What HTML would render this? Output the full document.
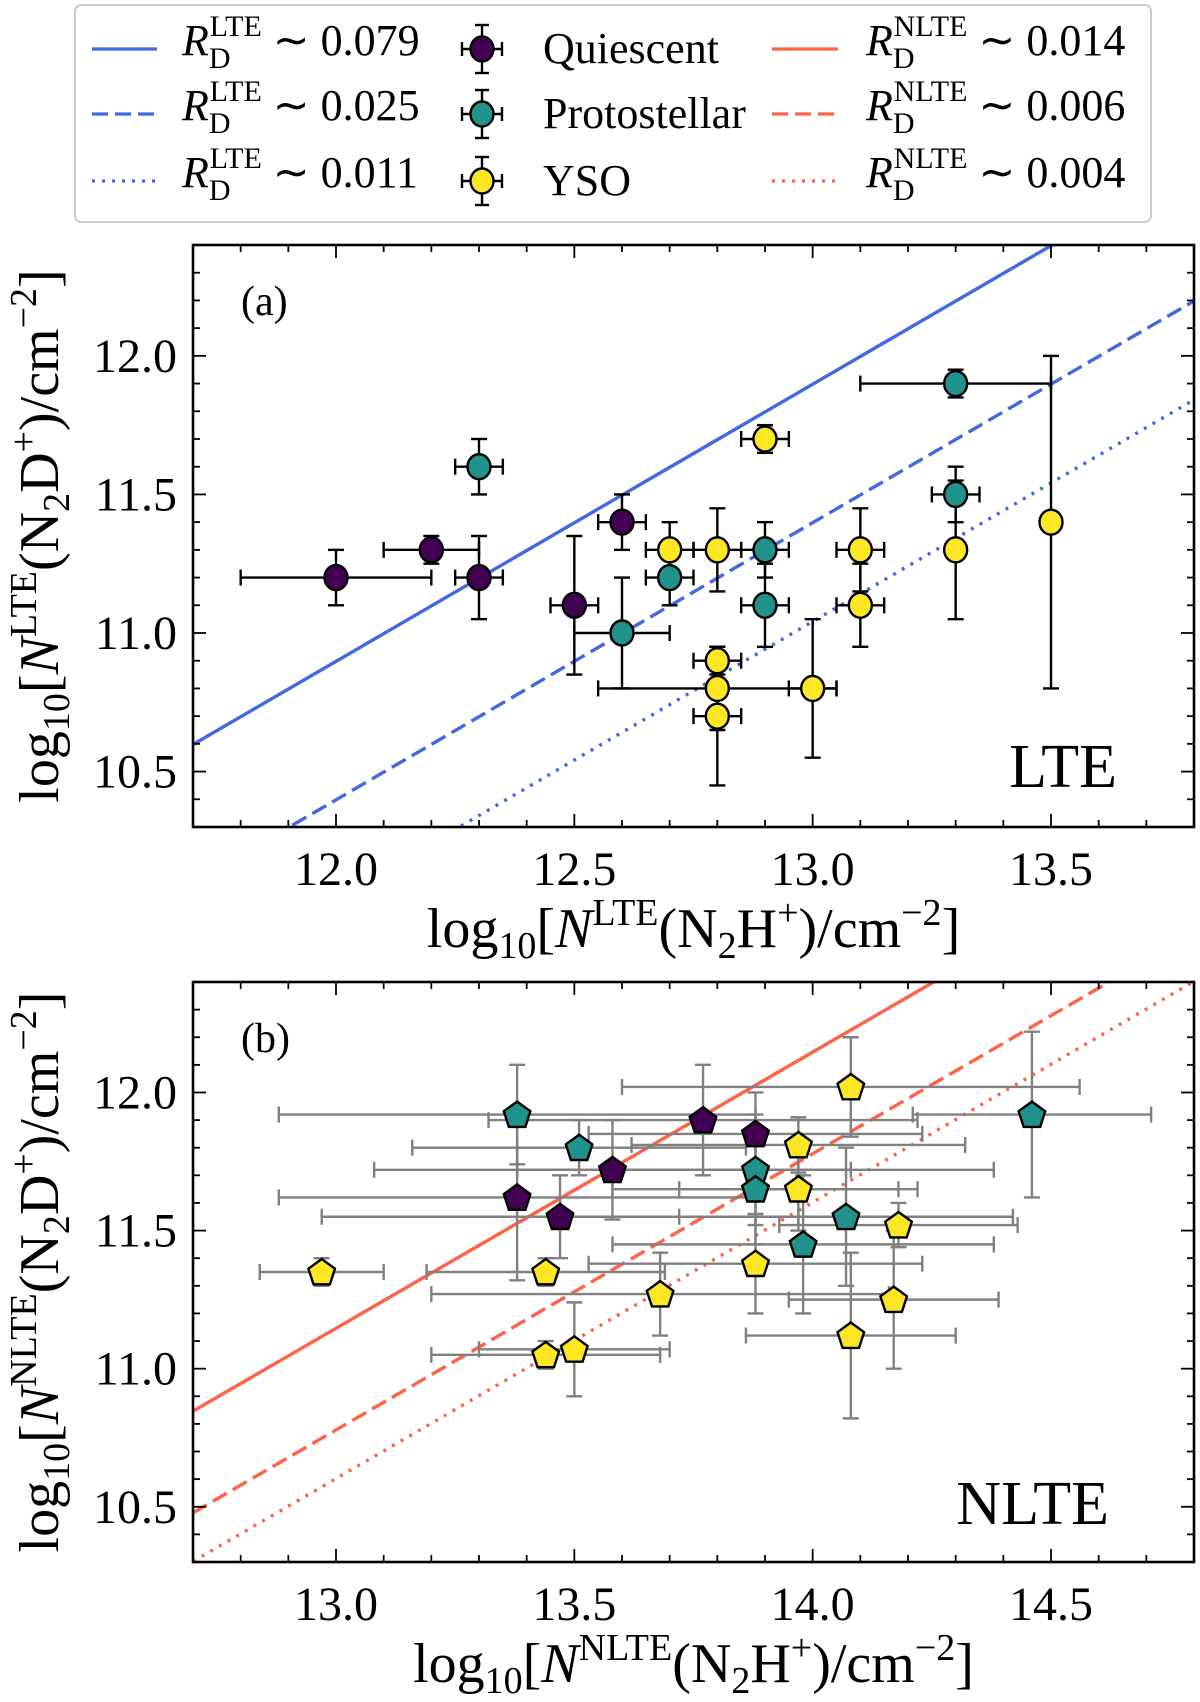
<!DOCTYPE html>
<html><head><meta charset="utf-8"><style>
html,body{margin:0;padding:0;background:#fff}
svg{display:block;font-family:"Liberation Serif",serif}
</style></head><body>
<svg id="fig" width="1200" height="1702" viewBox="0 0 1200 1702" xmlns="http://www.w3.org/2000/svg">
<g id="legend">
<rect x="75" y="5" width="1076" height="217" rx="6" fill="#fff" stroke="#ccc" stroke-width="2"/>
</g>
<g id="pa"></g>
<g id="pb"></g>
</svg>
<script>
// Panel a data: [x, y, xerr, yerr]
const lteQuiescent=[[12.0,11.2,0.2,0.1],[12.2,11.3,0.1,0.05],[12.3,11.2,0.05,0.15],[12.5,11.1,0.05,0.25],[12.6,11.4,0.05,0.1]];
const lteProto=[[12.3,11.6,0.05,0.1],[12.6,11.0,0.1,0.2],[12.7,11.2,0.05,0.1],[12.9,11.3,0.05,0.1],[12.9,11.1,0.05,0.15],[13.3,11.9,0.2,0.05],[13.3,11.5,0.05,0.1]];
const lteYSO=[[12.7,11.3,0.05,0.1],[12.8,11.3,0.05,0.15],[12.9,11.7,0.05,0.05],[12.8,10.9,0.05,0.05],[12.8,10.8,0.25,0.15],[12.8,10.7,0.05,0.25],[13.0,10.8,0.05,0.25],[13.1,11.3,0.05,0.15],[13.1,11.1,0.05,0.15],[13.3,11.3,0.0,0.25],[13.5,11.4,0.0,0.6]];
// Panel b data
const nlteQuiescent=[[13.77,11.9,0.45,0.2],[13.88,11.85,0.35,0.15],[13.58,11.72,0.5,0.18],[13.38,11.62,0.5,0.3],[13.47,11.55,0.5,0.15]];
const nlteProto=[[13.38,11.92,0.5,0.18],[13.51,11.8,0.35,0.1],[13.88,11.72,0.5,0.2],[13.88,11.65,0.3,0.2],[13.98,11.45,0.4,0.25],[14.07,11.55,0.35,0.25],[14.46,11.92,0.25,0.3]];
const nlteYSO=[[12.97,11.35,0.13,0.05],[13.44,11.35,0.25,0.05],[13.68,11.27,0.48,0.15],[13.88,11.38,0.35,0.18],[13.97,11.81,0.35,0.1],[13.97,11.65,0.25,0.15],[14.08,12.02,0.48,0.18],[14.08,11.12,0.22,0.3],[14.17,11.25,0.22,0.25],[14.18,11.52,0.25,0.08],[13.44,11.05,0.24,0.05],[13.5,11.07,0.2,0.17]];
const lteRatios=[0.079,0.025,0.011];
const nlteRatios=[0.014,0.006,0.004];
const xTicksA=[12.0,12.5,13.0,13.5];
const xTicksB=[13.0,13.5,14.0,14.5];
const yTicks=[10.5,11.0,11.5,12.0];

const NS="http://www.w3.org/2000/svg";
const COL={q:"#440154",p:"#21918c",y:"#fde725"};
function mk(t,a,p){const e=document.createElementNS(NS,t);for(const k in a)e.setAttribute(k,a[k]);p.appendChild(e);return e;}
const dashes=["none","16,7","3,7"];

function panel(g,box,xr,yr,xt,ratios,lineCol,sets,pent,errCol,label,tag,axLbl,lblDx,lblDy){
  const sx=v=>box.l+(v-xr[0])/(xr[1]-xr[0])*(box.r-box.l);
  const sy=v=>box.b-(v-yr[0])/(yr[1]-yr[0])*(box.b-box.t);
  const cp=mk("clipPath",{id:"c"+tag},g);mk("rect",{x:box.l,y:box.t,width:box.r-box.l,height:box.b-box.t},cp);
  const lg=mk("g",{"clip-path":"url(#c"+tag+")"},g);
  ratios.forEach((r,i)=>{const lr=Math.log10(r);
    const ln=mk("line",{x1:sx(xr[0]),y1:sy(xr[0]+lr),x2:sx(xr[1]),y2:sy(xr[1]+lr),stroke:lineCol,"stroke-width":3.4,"stroke-dasharray":dashes[i]},lg);
    
    
  });
  sets.forEach(([data,c])=>{data.forEach(d=>{
    const eg=mk("g",{stroke:errCol,"stroke-width":2.4,fill:"none"},lg);
    
    
    const x=sx(d[0]),y=sy(d[1]);
    if(d[2]>0){const a=sx(d[0]-d[2]),b=sx(d[0]+d[2]);mk("line",{x1:a,y1:y,x2:b,y2:y},eg);mk("line",{x1:a,y1:y-8,x2:a,y2:y+8},eg);mk("line",{x1:b,y1:y-8,x2:b,y2:y+8},eg);}
    if(d[3]>0){const a=sy(d[1]-d[3]),b=sy(d[1]+d[3]);mk("line",{x1:x,y1:a,x2:x,y2:b},eg);mk("line",{x1:x-8,y1:a,x2:x+8,y2:a},eg);mk("line",{x1:x-8,y1:b,x2:x+8,y2:b},eg);}
  });});
  sets.forEach(([data,c])=>{data.forEach(d=>{
    const x=sx(d[0]),y=sy(d[1]);let m;
    if(pent){const r=14,pts=[];for(let k=0;k<5;k++){const an=-Math.PI/2+k*2*Math.PI/5;pts.push((x+r*Math.cos(an)).toFixed(1)+","+(y+r*Math.sin(an)+1).toFixed(1));}
      m=mk("polygon",{points:pts.join(" "),fill:c,stroke:"#000","stroke-width":2.4},lg);}
    else m=mk("ellipse",{cx:x,cy:y,rx:11.5,ry:12.5,fill:c,stroke:"#000","stroke-width":2.4},lg);
    
    
  });});
  const fr=mk("rect",{x:box.l,y:box.t,width:box.r-box.l,height:box.b-box.t,fill:"none",stroke:"#000","stroke-width":2.6},g);
  
  
  const tg=mk("g",{stroke:"#000","stroke-width":1.8},g);
  for(let v=Math.ceil(xr[0]*10);v<=xr[1]*10+1e-6;v++){const maj=v%5===0,L=maj?13:7,x=sx(v/10);
    mk("line",{x1:x,y1:box.b,x2:x,y2:box.b-L},tg);mk("line",{x1:x,y1:box.t,x2:x,y2:box.t+L},tg);}
  for(let v=Math.ceil(yr[0]*10);v<=yr[1]*10+1e-6;v++){const maj=v%5===0,L=maj?13:7,y=sy(v/10);
    mk("line",{x1:box.l,y1:y,x2:box.l+L,y2:y},tg);mk("line",{x1:box.r,y1:y,x2:box.r-L,y2:y},tg);}
  xt.forEach(v=>{const t=mk("text",{x:sx(v),y:box.b+58,"text-anchor":"middle","font-size":48},g);t.textContent=v.toFixed(1);
    });
  yTicks.forEach(v=>{const t=mk("text",{x:box.l-16,y:sy(v)+16,"text-anchor":"end","font-size":48},g);t.textContent=v.toFixed(1);
    });
  const p=mk("text",{x:box.l+48,y:box.t+70,"font-size":42},g);p.textContent="("+tag+")";
  
  const c=mk("text",{x:box.r-lblDx,y:box.b-lblDy,"text-anchor":"end","font-size":62},g);c.textContent=label;
  
  const xtl=mk("text",{x:(box.l+box.r)/2,y:box.b+120,"text-anchor":"middle","font-size":56},g);
  xtl.innerHTML='log<tspan font-size="38" dy="11">10</tspan><tspan dy="-11">[</tspan><tspan font-style="italic">N</tspan><tspan font-size="38" dy="-22">'+axLbl+'</tspan><tspan dy="22">(N</tspan><tspan font-size="38" dy="11">2</tspan><tspan dy="-11">H</tspan><tspan font-size="38" dy="-22">+</tspan><tspan dy="22">)/cm</tspan><tspan font-size="38" dy="-22">−2</tspan><tspan dy="22">]</tspan>';
  
  const cy=(box.t+box.b)/2;
  const ytl=mk("text",{x:0,y:0,"text-anchor":"middle","font-size":56,transform:"translate(58,"+cy+") rotate(-90)"},g);
  ytl.innerHTML='log<tspan font-size="38" dy="11">10</tspan><tspan dy="-11">[</tspan><tspan font-style="italic">N</tspan><tspan font-size="38" dy="-22">'+axLbl+'</tspan><tspan dy="22">(N</tspan><tspan font-size="38" dy="11">2</tspan><tspan dy="-11">D</tspan><tspan font-size="38" dy="-22">+</tspan><tspan dy="22">)/cm</tspan><tspan font-size="38" dy="-22">−2</tspan><tspan dy="22">]</tspan>';
  
}
panel(document.getElementById("pa"),{l:193,r:1194,t:245,b:827},[11.7,13.8],[10.3,12.4],xTicksA,lteRatios,"#4169e1",
  [[lteQuiescent,COL.q],[lteProto,COL.p],[lteYSO,COL.y]],false,"#000","LTE","a","LTE",77,40);
panel(document.getElementById("pb"),{l:193,r:1194,t:982,b:1562},[12.7,14.8],[10.3,12.4],xTicksB,nlteRatios,"#ff6347",
  [[nlteQuiescent,COL.q],[nlteProto,COL.p],[nlteYSO,COL.y]],true,"#808080","NLTE","b","NLTE",85,38);

const L=document.getElementById("legend");
const rows=[41,106,173];
lteRatios.forEach((r,i)=>{
  const ln=mk("line",{x1:92,y1:rows[i]+8,x2:157,y2:rows[i]+8,stroke:"#4169e1","stroke-width":3.2,"stroke-dasharray":dashes[i]},L);
  
  const t=mk("text",{x:182,y:rows[i]+14,"font-size":44},L);
  t.innerHTML='<tspan font-style="italic">R</tspan><tspan font-size="30" dy="13">D</tspan><tspan font-size="30" dx="-21" dy="-32">LTE</tspan><tspan dy="19"> ∼ '+r.toFixed(3)+'</tspan>';
  
  const ln2=mk("line",{x1:772,y1:rows[i]+8,x2:838,y2:rows[i]+8,stroke:"#ff6347","stroke-width":3.2,"stroke-dasharray":dashes[i]},L);
  
  const t2=mk("text",{x:866,y:rows[i]+14,"font-size":44},L);
  t2.innerHTML='<tspan font-style="italic">R</tspan><tspan font-size="30" dy="13">D</tspan><tspan font-size="30" dx="-21" dy="-32">NLTE</tspan><tspan dy="19"> ∼ '+nlteRatios[i].toFixed(3)+'</tspan>';
  
});
[["Quiescent",COL.q],["Protostellar",COL.p],["YSO",COL.y]].forEach(([n,c],i)=>{
  const y=rows[i]+8,x=482;
  const eg=mk("g",{stroke:"#000","stroke-width":2.4},L);
  mk("line",{x1:x-20,y1:y,x2:x+20,y2:y},eg);mk("line",{x1:x-20,y1:y-7,x2:x-20,y2:y+7},eg);mk("line",{x1:x+20,y1:y-7,x2:x+20,y2:y+7},eg);
  mk("line",{x1:x,y1:y-24,x2:x,y2:y+24},eg);mk("line",{x1:x-7,y1:y-24,x2:x+7,y2:y-24},eg);mk("line",{x1:x-7,y1:y+24,x2:x+7,y2:y+24},eg);
  const m=mk("ellipse",{cx:x,cy:y,rx:11.5,ry:12.5,fill:c,stroke:"#000","stroke-width":2.4},L);
  
  const t=mk("text",{x:543,y:rows[i]+22,"font-size":44},L);t.textContent=n;
  
});
</script>
</body></html>
